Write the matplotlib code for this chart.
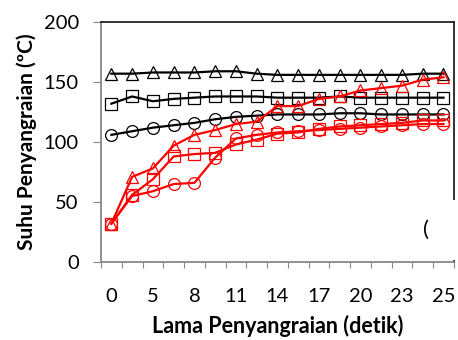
import matplotlib.pyplot as plt
from matplotlib.patches import Rectangle

# roasting time (category labels) and temperatures (deg C)
time = [0, 2, 5, 6, 8, 9, 11, 12, 14, 15, 17, 18, 20, 21, 23, 24, 25]
black_tri = [157, 157, 158, 158, 158, 159, 159, 157, 156, 156, 156, 156, 156, 156, 156, 157, 157]
black_sq = [132, 138, 134, 136, 137, 138, 138, 138, 137, 137, 137, 138, 137, 137, 137, 137, 137]
black_circ = [106, 109, 112, 114, 116, 119, 121, 122, 123, 123, 123, 124, 124, 123, 123, 123, 123]
red_tri = [32, 71, 78, 97, 106, 110, 115, 117, 130, 130, 136, 138, 143, 145, 147, 152, 154]
red_sq = [32, 56, 69, 88, 90, 91, 98, 102, 107, 108, 111, 113, 114, 115, 116, 118, 118]
red_circ = [32, 55, 59, 65, 66, 87, 103, 106, 108, 109, 110, 111, 112, 113, 114, 115, 115]

plt.rcParams['font.family'] = ['Lato', 'DejaVu Sans']

fig = plt.figure(figsize=(4.58, 3.40), dpi=100)
ax = fig.add_axes([0.2205, 0.2294, 0.7705, 0.7056])

x = list(range(len(time)))
style = dict(lw=1.6, ms=8.5, mfc='none', mew=0.9)
ax.plot(x, black_tri, '-^', color='black', **style)
ax.plot(x, black_sq, '-s', color='black', **style)
ax.plot(x, black_circ, '-o', color='black', **style)
ax.plot(x, red_tri, '-^', color='red', **style)
ax.plot(x, red_sq, '-s', color='red', **style)
ax.plot(x, red_circ, '-o', color='red', **style)

ax.set_xlim(-0.5, len(time) - 0.5)
ax.set_ylim(0, 200)
ax.set_yticks([0, 50, 100, 150, 200])

# category boundaries as tick marks, labels on every other category
ax.set_xticks([i - 0.5 for i in range(len(time) + 1)])
ax.set_xticklabels([])
ax.set_xticks(x[::2], minor=True)
ax.set_xticklabels([str(t) for t in time[::2]], minor=True)
ax.tick_params(axis='x', which='major', length=4, color='#888888')
ax.tick_params(axis='x', which='minor', length=0, pad=19, labelsize=14.5)
ax.tick_params(axis='y', length=6, color='#888888', labelsize=14.5, pad=10)

for side in ['left', 'bottom']:
    ax.spines[side].set_color('#888888')
    ax.spines[side].set_linewidth(1.3)
for side in ['top', 'right']:
    ax.spines[side].set_color('#222222')
    ax.spines[side].set_linewidth(1.3)

ax.set_xlabel('Lama Penyangraian (detik)', fontsize=15.5, fontweight='bold', labelpad=7)
ax.set_ylabel('Suhu Penyangraian (ºC)', fontsize=15, fontweight='bold', labelpad=5)

# leftover box covering the lower right corner
fig.patches.append(Rectangle((419 / 458, (340 - 260) / 340), 36 / 458, 60 / 340,
                             transform=fig.transFigure, facecolor='white',
                             edgecolor='none', zorder=5))
fig.text(426 / 458, 1 - 230 / 340, '(', fontsize=16, ha='center', va='center', zorder=6)

fig.savefig('out.png', dpi=100)
